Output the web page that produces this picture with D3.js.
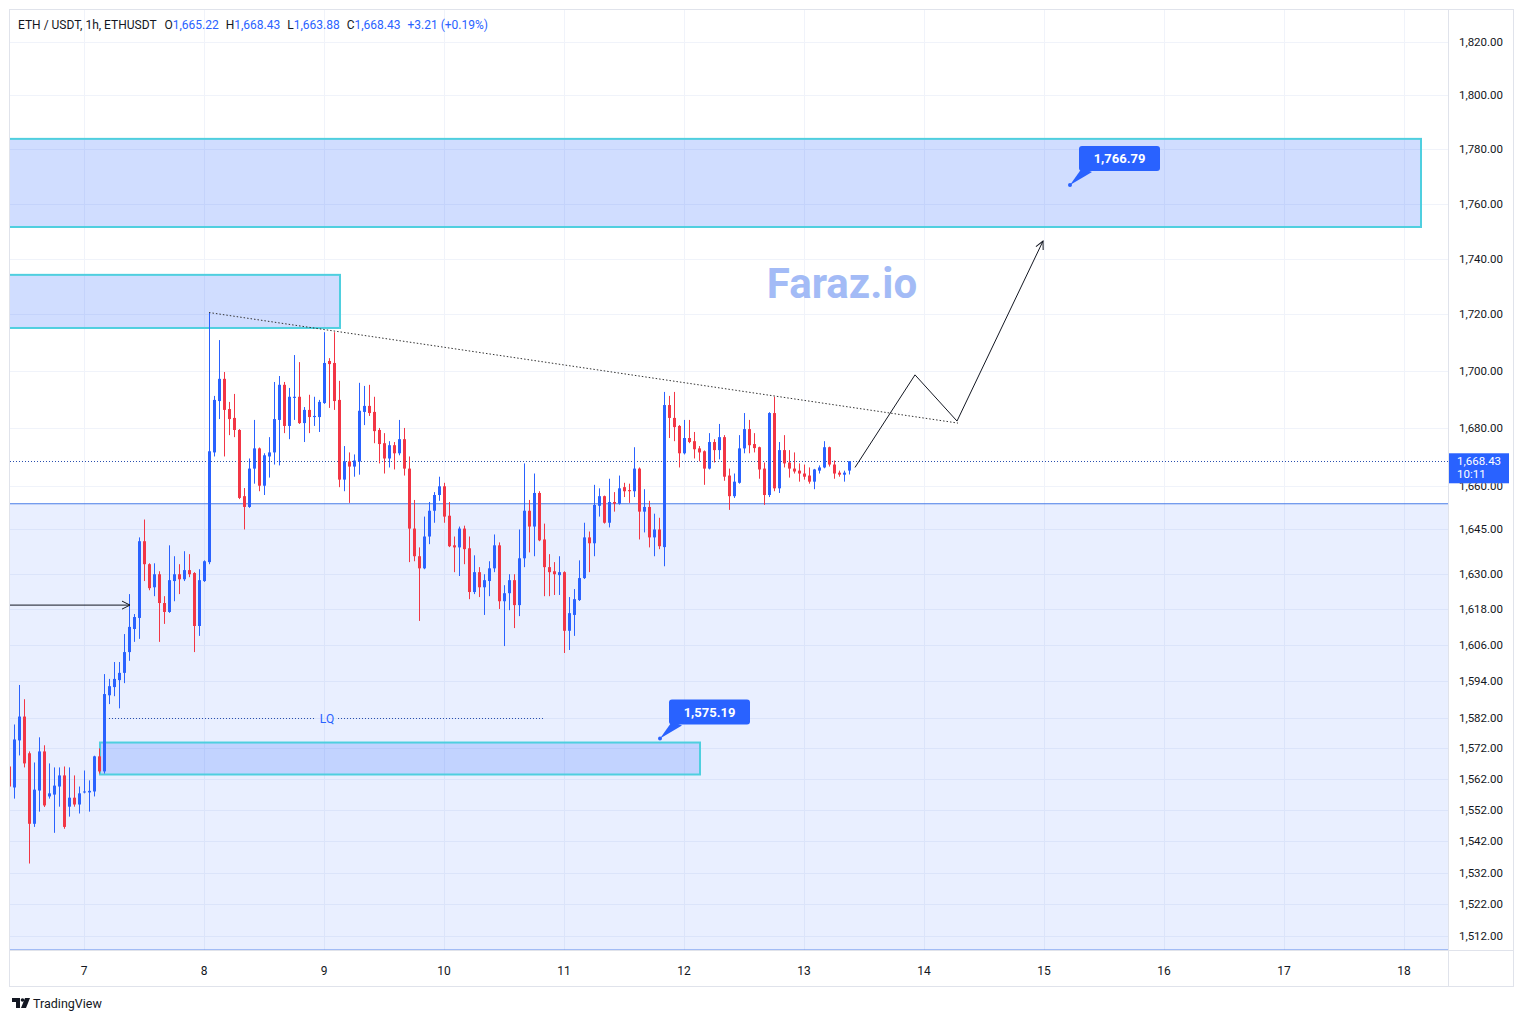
<!DOCTYPE html>
<html>
<head>
<meta charset="utf-8">
<script src="https://cdn.jsdelivr.net/npm/d3@7"></script>
<style>
  body { margin: 0; background: #ffffff; }
  text { font-family: Roboto, "DejaVu Sans", sans-serif; }
</style>
</head>
<body>
<div id="app"></div>
<script>
// ETHUSDT 1h candles, hour index 0 = day 7 00:00
const firstHour = -15;

const opens = [
  1566.1, 1559.3, 1574.6, 1582.4, 1570.4, 1547.6, 1558.3, 1571.0, 1556.4, 1557.0,
  1559.6, 1563.2, 1553.1, 1556.0, 1553.8, 1557.7, 1557.7, 1558.0, 1569.4, 1564.5,
  1589.4, 1592.1, 1594.4, 1596.8, 1603.7, 1611.4, 1615.1, 1641.0, 1633.2, 1625.4,
  1629.8, 1620.1, 1617.1, 1627.5, 1629.8, 1628.1, 1631.2, 1630.2, 1612.4, 1627.5,
  1633.9, 1671.5, 1689.4, 1697.2, 1686.6, 1683.5, 1679.3, 1656.4, 1652.7, 1665.9,
  1672.9, 1660.0, 1670.1, 1671.5, 1682.8, 1695.1, 1680.7, 1690.5, 1690.9, 1681.7,
  1686.3, 1683.8, 1683.8, 1688.7, 1703.5, 1702.8, 1689.8, 1662.1, 1668.4, 1666.6,
  1668.4, 1685.6, 1687.7, 1685.6, 1679.3, 1674.7, 1669.4, 1674.0, 1671.2, 1676.1,
  1665.9, 1645.3, 1635.9, 1631.8, 1642.6, 1651.4, 1656.8, 1659.8, 1649.7, 1639.6,
  1638.9, 1645.3, 1638.6, 1623.8, 1630.5, 1625.4, 1627.5, 1631.8, 1639.6, 1620.7,
  1623.4, 1627.8, 1619.4, 1635.2, 1651.4, 1646.0, 1657.5, 1641.6, 1632.2, 1630.8,
  1629.5, 1630.5, 1610.8, 1616.1, 1621.1, 1628.5, 1642.3, 1640.3, 1653.1, 1656.4,
  1647.3, 1654.4, 1653.8, 1659.5, 1658.5, 1658.1, 1665.9, 1651.1, 1652.7, 1642.3,
  1645.0, 1639.0, 1688.0, 1683.5, 1680.7, 1671.2, 1676.5, 1675.4, 1672.9, 1671.9,
  1665.9, 1675.1, 1672.3, 1676.8, 1663.5, 1656.4, 1661.0, 1672.9, 1679.6, 1674.4,
  1673.3, 1665.9, 1656.8, 1685.2, 1659.1, 1672.3, 1668.0, 1665.9, 1665.2, 1664.2,
  1663.5, 1661.4, 1665.2, 1666.3, 1673.3, 1667.3, 1664.5, 1663.8, 1665.22
];
const highs = [
  1568.4, 1579.8, 1592.8, 1588.1, 1571.0, 1567.4, 1575.6, 1573.0, 1567.1, 1565.8,
  1565.8, 1566.1, 1565.8, 1563.2, 1559.6, 1564.8, 1561.6, 1569.6, 1572.0, 1596.4,
  1594.8, 1600.4, 1600.4, 1609.7, 1623.1, 1616.4, 1642.3, 1648.4, 1633.5, 1633.5,
  1630.8, 1622.4, 1639.6, 1635.9, 1633.2, 1637.6, 1636.6, 1630.5, 1631.5, 1634.5,
  1720.7, 1691.2, 1710.9, 1699.6, 1689.1, 1691.9, 1679.6, 1659.2, 1669.4, 1682.8,
  1673.2, 1671.2, 1676.8, 1696.1, 1698.2, 1696.1, 1694.0, 1705.6, 1703.1, 1687.3,
  1691.6, 1690.9, 1689.8, 1713.7, 1704.5, 1713.7, 1696.5, 1673.7, 1671.5, 1670.8,
  1695.8, 1694.7, 1695.1, 1690.9, 1680.0, 1678.2, 1675.4, 1675.1, 1682.8, 1680.0,
  1670.1, 1655.1, 1638.9, 1649.4, 1654.4, 1657.8, 1663.1, 1661.0, 1654.4, 1642.6,
  1646.0, 1646.3, 1642.6, 1636.2, 1632.2, 1629.8, 1634.2, 1643.3, 1640.6, 1626.1,
  1629.8, 1629.8, 1645.0, 1667.7, 1655.1, 1664.2, 1658.1, 1647.0, 1636.6, 1633.9,
  1635.9, 1630.8, 1622.1, 1624.8, 1634.5, 1647.3, 1644.3, 1660.3, 1659.1, 1656.6,
  1662.4, 1657.8, 1663.5, 1661.0, 1660.7, 1673.3, 1666.3, 1658.8, 1654.8, 1650.4,
  1649.0, 1692.6, 1691.2, 1692.6, 1681.0, 1682.8, 1682.8, 1678.6, 1673.7, 1672.2,
  1678.2, 1676.1, 1681.4, 1677.5, 1665.9, 1664.2, 1677.5, 1685.2, 1682.8, 1678.2,
  1673.5, 1668.0, 1685.5, 1690.9, 1675.1, 1677.5, 1672.3, 1671.5, 1667.7, 1667.3,
  1666.3, 1665.8, 1667.0, 1675.4, 1673.5, 1668.7, 1665.2, 1665.2, 1668.43
];
const lows = [
  1557.0, 1555.7, 1569.7, 1565.8, 1534.9, 1546.6, 1551.5, 1553.0, 1555.7, 1544.7,
  1553.1, 1546.0, 1549.9, 1553.1, 1550.9, 1557.4, 1551.5, 1556.4, 1563.8, 1563.8,
  1586.5, 1589.1, 1585.1, 1593.4, 1600.8, 1607.1, 1608.1, 1627.5, 1624.4, 1622.4,
  1607.1, 1613.1, 1616.8, 1620.7, 1623.1, 1627.5, 1628.8, 1603.7, 1609.1, 1627.2,
  1633.2, 1670.1, 1683.1, 1670.1, 1677.5, 1676.8, 1655.4, 1645.0, 1652.4, 1660.7,
  1658.1, 1656.8, 1662.8, 1667.3, 1667.0, 1678.2, 1676.1, 1682.8, 1681.4, 1675.1,
  1678.2, 1680.7, 1678.6, 1688.4, 1687.0, 1686.3, 1659.5, 1658.1, 1654.1, 1663.1,
  1663.8, 1681.0, 1684.2, 1674.7, 1667.7, 1664.2, 1666.3, 1665.6, 1670.5, 1663.5,
  1633.9, 1634.2, 1614.1, 1631.5, 1640.0, 1647.3, 1654.8, 1647.3, 1639.0, 1630.5,
  1629.2, 1633.2, 1621.4, 1623.1, 1622.1, 1616.1, 1622.4, 1630.5, 1618.1, 1605.7,
  1617.7, 1611.7, 1615.7, 1632.2, 1637.2, 1635.9, 1641.0, 1622.4, 1622.4, 1622.8,
  1622.8, 1603.4, 1604.4, 1609.1, 1620.8, 1628.2, 1630.5, 1635.9, 1649.4, 1647.0,
  1645.7, 1651.1, 1653.5, 1656.1, 1654.1, 1656.1, 1641.6, 1644.0, 1638.9, 1635.9,
  1638.3, 1632.5, 1676.5, 1675.4, 1666.3, 1670.8, 1674.7, 1669.4, 1668.4, 1660.3,
  1665.6, 1668.0, 1669.1, 1661.7, 1651.7, 1655.8, 1660.7, 1671.2, 1671.2, 1671.5,
  1662.4, 1653.4, 1656.1, 1658.1, 1657.5, 1666.3, 1662.8, 1664.2, 1661.4, 1662.1,
  1660.7, 1658.8, 1664.2, 1666.0, 1666.6, 1662.4, 1663.1, 1661.4, 1663.88
];
const closes = [
  1559.6, 1574.9, 1582.4, 1567.1, 1547.6, 1558.6, 1571.0, 1553.5, 1557.4, 1559.9,
  1563.2, 1546.6, 1556.0, 1553.8, 1557.4, 1558.0, 1558.2, 1569.4, 1564.5, 1589.8,
  1592.4, 1594.8, 1596.8, 1603.7, 1612.1, 1615.4, 1641.0, 1633.2, 1625.1, 1629.8,
  1620.1, 1617.1, 1627.8, 1629.8, 1628.1, 1631.2, 1629.8, 1612.4, 1627.8, 1634.2,
  1671.9, 1689.8, 1697.2, 1686.3, 1683.1, 1679.3, 1655.8, 1652.7, 1665.9, 1672.9,
  1660.0, 1670.5, 1671.5, 1683.1, 1695.1, 1680.7, 1690.9, 1690.9, 1681.7, 1686.3,
  1683.8, 1684.2, 1689.1, 1702.8, 1702.4, 1689.4, 1662.1, 1668.4, 1666.6, 1668.7,
  1686.0, 1687.7, 1685.2, 1678.9, 1674.4, 1669.4, 1674.0, 1671.2, 1676.1, 1665.9,
  1645.3, 1635.9, 1631.8, 1642.6, 1651.4, 1656.8, 1659.8, 1649.4, 1639.3, 1638.9,
  1645.3, 1638.3, 1623.8, 1630.5, 1625.4, 1627.8, 1631.8, 1639.6, 1620.7, 1623.4,
  1627.8, 1619.4, 1635.2, 1651.4, 1646.0, 1657.5, 1641.3, 1632.2, 1630.5, 1629.8,
  1630.5, 1610.8, 1616.7, 1621.4, 1628.5, 1642.3, 1640.3, 1653.4, 1656.4, 1647.3,
  1654.4, 1653.8, 1659.1, 1658.1, 1658.1, 1665.9, 1651.1, 1652.7, 1642.3, 1645.0,
  1639.3, 1688.0, 1683.5, 1680.3, 1671.2, 1676.5, 1675.1, 1672.6, 1671.5, 1665.9,
  1675.1, 1672.3, 1676.8, 1663.1, 1656.4, 1661.4, 1672.9, 1679.6, 1674.0, 1673.0,
  1665.6, 1656.8, 1685.2, 1659.1, 1672.3, 1667.7, 1665.9, 1664.9, 1664.2, 1663.1,
  1661.4, 1665.6, 1666.3, 1673.3, 1667.3, 1664.2, 1663.8, 1664.5, 1668.43
];

const dayLabels = ["7", "8", "9", "10", "11", "12", "13", "14", "15", "16", "17", "18"];
const priceTicks = [1820, 1800, 1780, 1760, 1740, 1720, 1700, 1680, 1660, 1645, 1630,
  1618, 1606, 1594, 1582, 1572, 1562, 1552, 1542, 1532, 1522, 1512];

// drawings (hour index, price)
const bigZone = { h0: -20, h1: 300, top: 1653.8, bottom: 1507.6 };
const supplyZones = [
  { h0: -20, h1: 267.4, top: 1783.8, bottom: 1751.5 },
  { h0: -20, h1: 51.2, top: 1734.2, bottom: 1715.2 }
];
const lqZone = { h0: 3.2, h1: 123.2, top: 1573.9, bottom: 1563.5 };
const trendLine = [[25, 1720.7], [174.8, 1681.7]];
const pathHours = [154.2, 166.2, 174.6, 191.8];
const pathPrices = [1666.3, 1698.6, 1682.4, 1746.4];
const sideArrow = [[-20, 1619.4], [9.2, 1619.4]];
const lqLine = { h0: 5, h1: 92.2, price: 1582 };
const callouts = [
  { h: 197.2, price: 1766.79, label: "1,766.79" },
  { h: 115.2, price: 1575.19, label: "1,575.19" }
];
const lastPrice = 1668.43;
const changeText = "+3.21 (+0.19%)";

const W = 1523, H = 1021;
const pane = { left: 10, right: 1448, top: 10, bottom: 950 };

const svg = d3.select("#app").append("svg")
  .attr("width", W).attr("height", H)
  .style("display", "block");

const x = d3.scaleLinear().domain([-14.8, 272.8]).range([pane.left, pane.right]);
const y = d3.scaleLog().domain([1512, 1820]).range([936, 42]);

const defs = svg.append("defs");
defs.append("clipPath").attr("id", "paneClip")
  .append("rect")
  .attr("x", pane.left).attr("y", pane.top)
  .attr("width", pane.right - pane.left).attr("height", pane.bottom - pane.top);
defs.append("clipPath").attr("id", "axisClip")
  .append("rect")
  .attr("x", pane.right + 1).attr("y", pane.top)
  .attr("width", 64).attr("height", pane.bottom - pane.top);

defs.append("marker").attr("id", "arrowHead")
  .attr("viewBox", "0 0 10 10").attr("refX", 9).attr("refY", 5)
  .attr("markerWidth", 10).attr("markerHeight", 10)
  .attr("markerUnits", "userSpaceOnUse")
  .attr("orient", "auto")
  .append("path").attr("d", "M1,1 L9,5 L1,9")
  .attr("fill", "none").attr("stroke", "#131722").attr("stroke-width", 1);

const g = svg.append("g").attr("clip-path", "url(#paneClip)");

// grid
g.append("g").selectAll("line").data(dayLabels).enter().append("line")
  .attr("x1", (d, i) => x(i * 24) + 0.5).attr("x2", (d, i) => x(i * 24) + 0.5)
  .attr("y1", pane.top).attr("y2", pane.bottom)
  .attr("stroke", "#f0f3fa");
g.append("g").selectAll("line").data(priceTicks).enter().append("line")
  .attr("x1", pane.left).attr("x2", pane.right)
  .attr("y1", d => Math.round(y(d)) + 0.5).attr("y2", d => Math.round(y(d)) + 0.5)
  .attr("stroke", "#f0f3fa");

// zones
g.append("rect")
  .attr("x", x(bigZone.h0)).attr("width", x(bigZone.h1) - x(bigZone.h0))
  .attr("y", y(bigZone.top)).attr("height", y(bigZone.bottom) - y(bigZone.top))
  .attr("fill", "rgba(41,98,255,0.1)")
  .attr("stroke", "#4a7de8").attr("stroke-width", 1);

g.append("g").selectAll("rect").data(supplyZones).enter().append("rect")
  .attr("x", d => x(d.h0)).attr("width", d => x(d.h1) - x(d.h0))
  .attr("y", d => y(d.top)).attr("height", d => y(d.bottom) - y(d.top))
  .attr("fill", "rgba(41,98,255,0.22)")
  .attr("stroke", "#4fcfdf").attr("stroke-width", 2);

g.append("rect")
  .attr("x", x(lqZone.h0)).attr("width", x(lqZone.h1) - x(lqZone.h0))
  .attr("y", y(lqZone.top)).attr("height", y(lqZone.bottom) - y(lqZone.top))
  .attr("fill", "rgba(41,98,255,0.2)")
  .attr("stroke", "#4fcfdf").attr("stroke-width", 2);

// watermark
g.append("text")
  .attr("x", 842).attr("y", 298)
  .attr("text-anchor", "middle")
  .attr("font-size", 42).attr("font-weight", 700)
  .attr("fill", "#a3bbf6")
  .text("Faraz.io");

// last price line
g.append("line")
  .attr("x1", pane.left).attr("x2", pane.right)
  .attr("y1", Math.round(y(lastPrice)) + 0.5).attr("y2", Math.round(y(lastPrice)) + 0.5)
  .attr("stroke", "#2a4fae").attr("stroke-dasharray", "1,2");

// candles
const candles = opens.map((o, i) => ({
  h: firstHour + i, o: o, hi: highs[i], lo: lows[i], c: closes[i]
}));
const up = "#2962ff", down = "#f23645";
const cg = g.append("g");
cg.selectAll("line").data(candles).enter().append("line")
  .attr("x1", d => Math.round(x(d.h)) + 0.5).attr("x2", d => Math.round(x(d.h)) + 0.5)
  .attr("y1", d => y(d.hi)).attr("y2", d => y(d.lo))
  .attr("stroke", d => d.c >= d.o ? up : down);
cg.selectAll("rect").data(candles).enter().append("rect")
  .attr("x", d => Math.round(x(d.h)) - 1)
  .attr("width", 3)
  .attr("y", d => y(Math.max(d.o, d.c)))
  .attr("height", d => Math.max(1, y(Math.min(d.o, d.c)) - y(Math.max(d.o, d.c))))
  .attr("fill", d => d.c >= d.o ? up : down);

// trend line
g.append("line")
  .attr("x1", x(trendLine[0][0])).attr("y1", y(trendLine[0][1]))
  .attr("x2", x(trendLine[1][0])).attr("y2", y(trendLine[1][1]))
  .attr("stroke", "#333").attr("stroke-dasharray", "1.5,2");

// projected path
g.append("path")
  .attr("d", d3.line().x((d, i) => x(pathHours[i])).y((d, i) => y(pathPrices[i]))(pathHours))
  .attr("fill", "none").attr("stroke", "#131722").attr("stroke-width", 1)
  .attr("marker-end", "url(#arrowHead)");

// side arrow
g.append("line")
  .attr("x1", x(sideArrow[0][0])).attr("y1", y(sideArrow[0][1]))
  .attr("x2", x(sideArrow[1][0])).attr("y2", y(sideArrow[1][1]))
  .attr("stroke", "#131722").attr("marker-end", "url(#arrowHead)");

// LQ line
const lqMid = (x(lqLine.h0) + x(lqLine.h1)) / 2;
const lqY = Math.round(y(lqLine.price)) + 0.5;
g.append("line").attr("x1", x(lqLine.h0)).attr("x2", lqMid - 11)
  .attr("y1", lqY).attr("y2", lqY)
  .attr("stroke", "#2a4fae").attr("stroke-dasharray", "1,2");
g.append("line").attr("x1", lqMid + 11).attr("x2", x(lqLine.h1))
  .attr("y1", lqY).attr("y2", lqY)
  .attr("stroke", "#2a4fae").attr("stroke-dasharray", "1,2");
g.append("text").attr("x", lqMid).attr("y", lqY + 4)
  .attr("text-anchor", "middle").attr("font-size", 12)
  .attr("fill", "#2962ff").text("LQ");

// callouts
const co = g.append("g").selectAll("g").data(callouts).enter().append("g")
  .attr("transform", d => `translate(${x(d.h)},${y(d.price)})`);
co.append("path")
  .attr("d", "M0,0 L12,-17 L22,-13 Z")
  .attr("fill", "#2962ff");
co.append("rect")
  .attr("x", 9).attr("y", -39).attr("width", 81).attr("height", 25).attr("rx", 3)
  .attr("fill", "#2962ff");
co.append("circle").attr("r", 2).attr("fill", "#2962ff");
co.append("text")
  .attr("x", 49.5).attr("y", -22)
  .attr("text-anchor", "middle").attr("font-size", 13).attr("font-weight", 700)
  .attr("fill", "#ffffff")
  .text(d => d.label);

// frame
svg.append("rect").attr("x", 9.5).attr("y", 9.5).attr("width", 1504).attr("height", 977)
  .attr("fill", "none").attr("stroke", "#e0e3eb");
svg.append("line").attr("x1", pane.right + 0.5).attr("x2", pane.right + 0.5)
  .attr("y1", 10).attr("y2", 987).attr("stroke", "#e0e3eb");
svg.append("line").attr("x1", 10).attr("x2", 1514)
  .attr("y1", pane.bottom + 0.5).attr("y2", pane.bottom + 0.5).attr("stroke", "#e0e3eb");

// price axis (the 1,660 label sits half hidden under the last-price tag)
const fmt = d3.format(",.2f");
const lpY = y(lastPrice);
const tagTop = lpY - 8, tagH = 30;
const axisG = svg.append("g");
axisG.selectAll("text").data(priceTicks.filter(d => Math.abs(y(d) - (tagTop + tagH / 2)) > 20))
  .enter().append("text")
  .attr("x", 1503).attr("y", d => y(d) + 4)
  .attr("text-anchor", "end").attr("font-size", 11.5)
  .attr("fill", "#131722")
  .text(d => fmt(d));

// last price label
svg.append("rect").attr("x", 1449).attr("y", tagTop).attr("width", 60).attr("height", tagH)
  .attr("fill", "#2962ff");
svg.append("text").attr("x", 1457).attr("y", lpY + 4)
  .attr("font-size", 11.5).attr("fill", "#ffffff").text(fmt(lastPrice));
svg.append("text").attr("x", 1457).attr("y", lpY + 17)
  .attr("font-size", 11.5).attr("fill", "#ffffff").text("10:11");

// partly covered tick label: only the part below the tag shows
const hidden = priceTicks.filter(d => Math.abs(y(d) - (tagTop + tagH / 2)) <= 20);
svg.append("clipPath").attr("id", "belowTag").append("rect")
  .attr("x", pane.right + 1).attr("y", tagTop + tagH)
  .attr("width", 64).attr("height", 20);
svg.append("g").attr("clip-path", "url(#belowTag)")
  .selectAll("text").data(hidden).enter().append("text")
  .attr("x", 1503).attr("y", d => y(d) + 4)
  .attr("text-anchor", "end").attr("font-size", 11.5)
  .attr("fill", "#131722")
  .text(d => fmt(d));

// time axis
svg.append("g").selectAll("text").data(dayLabels).enter().append("text")
  .attr("x", (d, i) => x(i * 24)).attr("y", 975)
  .attr("text-anchor", "middle").attr("font-size", 12)
  .attr("fill", "#131722")
  .text(d => d);

// header legend
const hdr = svg.append("text").attr("x", 18).attr("y", 29).attr("font-size", 12)
  .attr("fill", "#131722");
hdr.append("tspan").text("ETH / USDT, 1h, ETHUSDT");
const ohlc = [["O", opens[opens.length - 1]], ["H", highs[highs.length - 1]],
  ["L", lows[lows.length - 1]], ["C", closes[closes.length - 1]]];
ohlc.forEach((d, i) => {
  hdr.append("tspan").attr("dx", i === 0 ? 8 : 7).text(d[0]);
  hdr.append("tspan").attr("fill", "#2962ff").text(fmt(d[1]));
});
hdr.append("tspan").attr("dx", 7).attr("fill", "#2962ff").text(changeText);

// TradingView mark
const logo = svg.append("g").attr("transform", "translate(12,998)");
logo.append("path").attr("d", "M0,0 H8 V10 H4 V4 H0 Z").attr("fill", "#131722");
logo.append("circle").attr("cx", 10.5).attr("cy", 2).attr("r", 1.8).attr("fill", "#131722");
logo.append("path").attr("d", "M13,0 H18 L14,10 H9 Z").attr("fill", "#131722");
svg.append("text").attr("x", 33).attr("y", 1008).attr("font-size", 12.5)
  .attr("fill", "#131722").text("TradingView");
</script>
</body>
</html>
